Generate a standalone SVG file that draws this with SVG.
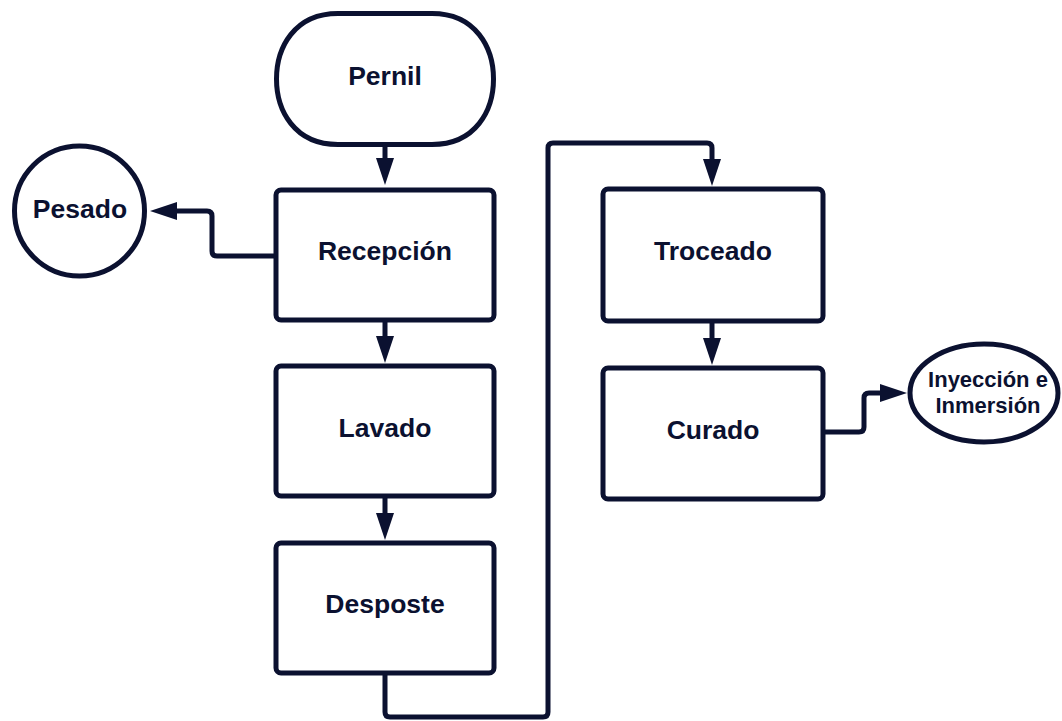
<svg xmlns="http://www.w3.org/2000/svg" width="1062" height="721" viewBox="0 0 1062 721">
<style>
.shape{fill:#ffffff;stroke:#0b1130;stroke-width:5}
.conn{fill:none;stroke:#0b1130;stroke-width:5;stroke-linejoin:round}
.lbl{font-family:"Liberation Sans",Arial,sans-serif;font-weight:bold;font-size:26.5px;fill:#0b1130;text-anchor:middle}
.sm{font-size:22px}
</style>
<defs>
<marker id="arr" markerUnits="userSpaceOnUse" markerWidth="28" markerHeight="19" refX="1" refY="9" orient="auto">
<path d="M0,0 L27,9 L0,18 Z" fill="#0b1130"/>
</marker>
</defs>
<rect width="1062" height="721" fill="#ffffff"/>
<g id="connectors">
<path class="conn" d="M385,147 V159" marker-end="url(#arr)"/>
<path class="conn" d="M274,256 H217 Q212,256 212,251 V216 Q212,211 207,211 H176" marker-end="url(#arr)"/>
<path class="conn" d="M385,322 V337" marker-end="url(#arr)"/>
<path class="conn" d="M385,498 V514" marker-end="url(#arr)"/>
<path class="conn" d="M385,675 V712 Q385,717 390,717 H543 Q548,717 548,712 V148 Q548,143 553,143 H707 Q712,143 712,148 V160" marker-end="url(#arr)"/>
<path class="conn" d="M712,323 V339" marker-end="url(#arr)"/>
<path class="conn" d="M824,432 H859 Q864,432 864,427 V398 Q864,393 869,393 H881" marker-end="url(#arr)"/>
</g>
<g id="pernil">
<path class="shape" d="M338,13.5 H432 C476,13.5 493.5,48 493.5,79 C493.5,110 476,144.5 432,144.5 H338 C294,144.5 276.5,110 276.5,79 C276.5,48 294,13.5 338,13.5 Z"/>
<text class="lbl" x="385" y="85">Pernil</text>
</g>
<g id="recepcion">
<rect class="shape" x="276" y="190" width="218" height="130" rx="5"/>
<text class="lbl" x="385" y="260">Recepción</text>
</g>
<g id="pesado">
<circle class="shape" cx="79.5" cy="211" r="65"/>
<text class="lbl" x="80" y="218">Pesado</text>
</g>
<g id="lavado">
<rect class="shape" x="276" y="366" width="218" height="130" rx="5"/>
<text class="lbl" x="385" y="437">Lavado</text>
</g>
<g id="desposte">
<rect class="shape" x="276" y="543" width="218" height="130" rx="5"/>
<text class="lbl" x="385" y="613">Desposte</text>
</g>
<g id="troceado">
<rect class="shape" x="603" y="189" width="220" height="132" rx="5"/>
<text class="lbl" x="713" y="260">Troceado</text>
</g>
<g id="curado">
<rect class="shape" x="603" y="368" width="220" height="131" rx="5"/>
<text class="lbl" x="713" y="439">Curado</text>
</g>
<g id="inyeccion">
<ellipse class="shape" cx="984" cy="393" rx="74" ry="49"/>
<text class="lbl sm" x="988" y="387">Inyección e</text>
<text class="lbl sm" x="988" y="413">Inmersión</text>
</g>
</svg>
